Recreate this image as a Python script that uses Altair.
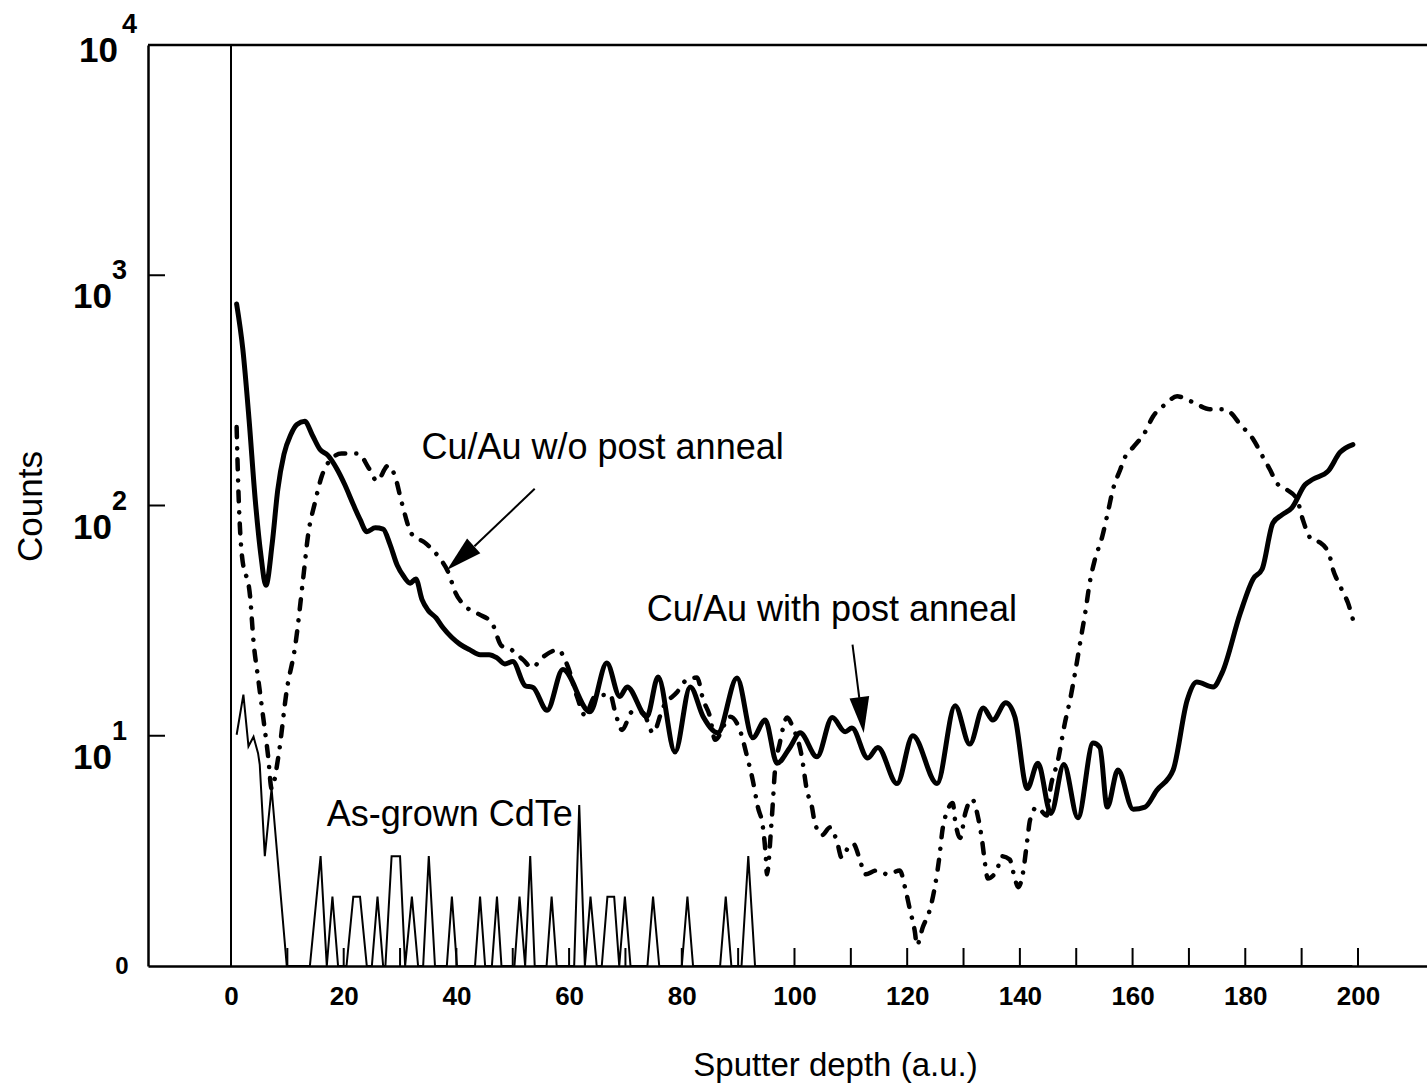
import altair as alt
import pandas as pd

# ---------------- data ----------------
# (sputter depth in a.u., counts)
with_anneal = [
    (1.0, 750), (2.1, 477), (3.2, 237), (4.3, 106), (5.3, 61), (6.2, 45), (7.3, 68),
    (8.3, 117), (9.4, 167), (10.6, 203), (11.7, 225), (13.1, 232), (14.4, 203),
    (15.8, 175), (17.2, 165), (18.8, 144), (20.2, 123), (21.7, 101), (22.9, 87),
    (24.1, 77), (25.6, 80), (27.0, 79), (28.2, 68), (29.5, 55), (30.7, 49), (31.8, 46),
    (32.8, 48), (33.9, 39), (35.0, 35), (36.4, 32.5), (37.6, 29.5), (39.2, 26.7),
    (40.6, 25), (42.4, 23.6), (44.2, 22.5), (45.8, 22.5), (47.2, 21.8), (48.6, 20.5),
    (50.0, 21), (52.2, 16.5), (53.6, 16.2), (56.1, 12.9), (58.9, 19.4), (63.7, 12.7),
    (66.7, 20.7), (69.0, 14.8), (70.3, 16.3), (73.8, 12.1), (75.8, 18), (78.8, 8.5),
    (81.5, 16.3), (83.8, 12.1), (86.4, 10.3), (89.8, 17.8), (92.6, 9.8), (94.8, 11.7),
    (96.9, 7.6), (99.2, 8.9), (101.0, 10.3), (104.0, 8.1), (106.7, 12), (109.0, 10.4),
    (110.2, 10.8), (113.0, 8), (114.8, 8.9), (118.2, 6.2), (121.0, 10), (125.3, 6.2),
    (128.5, 13.5), (131.1, 9.2), (133.5, 13.2), (135.2, 11.7), (137.5, 13.9),
    (139.1, 12.1), (141.3, 5.9), (143.2, 7.6), (145.5, 4.6), (147.8, 7.5), (150.3, 4.4),
    (153.0, 9.3), (154.2, 8.9), (155.5, 4.9), (157.4, 7.1), (160.1, 4.8), (162.2, 4.9),
    (164.3, 5.8), (167.2, 7.1), (169.7, 14.3), (171.4, 17.1), (174.3, 16.3),
    (175.9, 18.8), (179.1, 34), (181.4, 48), (183.0, 53), (184.9, 84), (186.5, 91),
    (188.3, 98), (190.6, 123), (192.0, 130), (194.7, 141), (196.8, 170), (199.1, 184),
]

without_anneal = [
    (1.0, 219), (1.3, 119), (1.9, 62), (3.4, 40), (4.0, 25.6), (4.8, 17.9), (5.7, 12.1),
    (6.6, 8.1), (7.2, 5.9), (8.4, 8.1), (9.9, 15.8), (11.4, 24.6), (12.8, 48), (13.7, 75),
    (14.9, 103), (16.1, 134), (17.3, 154), (19.6, 168), (22.6, 168), (24.4, 146),
    (25.9, 128), (27.9, 149), (29.1, 134), (30.3, 103), (32.1, 75), (34.4, 69),
    (36.8, 60), (38.6, 51), (39.8, 42), (41.5, 36.7), (43.9, 33.8), (46.3, 30.9),
    (48.0, 24.6), (49.8, 23.6), (51.8, 21.4), (53.4, 19.8), (55.4, 22.0), (58.0, 23.6),
    (59.8, 19.9), (61.4, 14.8), (62.8, 12.3), (64.6, 14.8), (67.3, 15.1), (68.1, 12.9),
    (69.4, 10.6), (71.2, 12.7), (73.1, 12.6), (74.9, 10.3), (76.7, 13.3), (79.1, 15.4),
    (80.9, 17.5), (82.7, 17.9), (83.8, 14.3), (85.0, 12.1), (85.9, 9.6), (88.6, 12.1),
    (90.3, 10.6), (91.6, 8.1), (92.6, 6.4), (93.5, 4.9), (94.4, 4.0), (94.9, 3.0),
    (95.1, 2.5), (95.8, 3.8), (96.2, 5.3), (96.5, 6.9), (97.4, 9.3), (98.7, 12.0),
    (99.7, 10.9), (101.3, 8.1), (102.2, 5.8), (103.1, 4.9), (103.6, 4.2), (104.9, 3.7),
    (106.3, 4.0), (107.5, 3.5), (108.4, 2.95), (109.5, 3.26), (110.4, 3.4), (111.6, 2.9),
    (112.5, 2.5), (114.6, 2.6), (116.6, 2.5), (118.7, 2.6), (119.6, 2.2), (120.5, 1.75),
    (121.4, 1.39), (121.7, 1.23), (122.8, 1.48), (124.0, 1.75), (124.9, 2.2), (125.8, 3.1),
    (126.2, 3.8), (127.1, 4.7), (128.1, 5.1), (128.5, 4.3), (129.4, 3.6), (130.3, 4.6),
    (131.5, 5.3), (132.6, 4.4), (133.3, 3.5), (133.8, 2.8), (134.3, 2.4), (135.9, 2.6),
    (136.8, 3.0), (138.2, 2.9), (139.1, 2.4), (139.7, 2.2), (140.5, 2.5), (141.3, 3.5),
    (141.8, 4.3), (143.0, 4.9), (144.8, 4.5), (145.3, 5.65), (146.8, 7.9), (148.0, 11.4),
    (148.9, 14.3), (149.8, 18.8), (151.0, 28.1), (151.6, 34.2), (152.4, 46.3),
    (153.3, 58.1), (154.6, 73), (155.6, 93), (156.5, 117), (157.8, 143), (158.7, 163),
    (160.1, 179), (162.2, 208), (163.6, 243), (165.8, 275), (167.9, 298), (168.8, 295),
    (171.4, 275), (173.7, 262), (176.0, 262), (177.3, 254), (179.1, 225), (181.4, 194),
    (183.1, 163), (184.4, 143), (185.6, 125), (187.4, 117), (189.2, 106), (190.2, 87),
    (191.8, 71), (193.3, 69), (195.0, 60), (195.6, 52.4), (196.3, 47.5), (197.4, 41.8),
    (198.2, 37.9), (199.1, 32.0),
]

# 0 counts are drawn on the bottom ("0") line
as_grown = [
    (1.0, 10.1), (2.2, 15.1), (3.1, 9.0), (4.0, 9.9), (4.8, 8.4), (5.1, 7.5), (6.0, 3.0),
    (7.2, 5.9), (9.9, 0),
    (14.0, 0), (15.9, 3), (17.0, 0), (18.0, 2), (19.0, 0),
    (20.5, 0), (21.7, 2), (22.9, 2), (24.1, 0),
    (25.0, 0), (26.0, 2), (27.0, 0),
    (27.4, 0), (28.5, 3), (30.0, 3), (30.9, 0), (32.1, 2), (33.2, 0),
    (34.1, 0), (35.1, 3), (36.2, 0),
    (38.3, 0), (39.2, 2), (40.1, 0),
    (43.3, 0), (44.2, 2), (45.1, 0),
    (46.3, 0), (47.2, 2), (48.0, 0),
    (50.3, 0), (51.2, 2), (52.2, 0), (53.1, 3), (53.9, 0),
    (56.0, 0), (56.9, 2), (57.8, 0),
    (60.9, 0), (61.8, 5), (62.8, 0), (63.8, 2), (64.9, 0),
    (65.8, 0), (66.8, 2), (68.0, 2), (68.9, 0), (69.9, 2), (70.9, 0),
    (73.9, 0), (74.9, 2), (76.0, 0),
    (80.0, 0), (81.0, 2), (82.0, 0),
    (86.8, 0), (87.8, 2), (88.8, 0),
    (90.6, 0), (91.8, 3), (93.0, 0),
    (199.0, 0),
]

x_tick_values = list(range(10, 201, 10))
x_label_values = list(range(0, 201, 20))
decades = [10, 100, 1000]
decade_exponents = ["1", "2", "3"]
top_decade = [10000]
top_exponent = ["4"]

annotation_labels = ["Cu/Au w/o post anneal", "Cu/Au with post anneal", "As-grown CdTe"]
annotation_depth = [33.8, 73.8, 17.0]
annotation_counts = [158.5, 31.4, 4.06]

arrow_start_depth = [53.9, 110.3]
arrow_start_counts = [118.2, 24.9]
arrow_end_depth = [43.2, 111.5]
arrow_end_counts = [66.5, 14.6]
arrow_head_depth = [40.7, 111.9]
arrow_head_counts = [59.2, 12.3]

# ---------------- chart ----------------
FONT = "Liberation Sans, Arial, Helvetica, sans-serif"
W, H = 1279, 921

xs = alt.Scale(domain=[-14.73, 212.25], nice=False, zero=False)
ys = alt.Scale(type="log", domain=[1, 10000], nice=False)


def frame(pairs):
    return pd.DataFrame(pairs, columns=["depth", "counts"])


x_axis = alt.Axis(
    values=x_label_values, ticks=False, tickSize=0, grid=False, domain=True,
    domainColor="black", domainWidth=2.5, labelFont=FONT, labelFontSize=26,
    labelFontWeight="bold", labelColor="black", labelPadding=17, labelFlush=False,
    labelOverlap=False, title="Sputter depth (a.u.)", titleFont=FONT, titleFontSize=33,
    titleFontWeight="normal", titleColor="black", titleX=687, titleY=109,
    titleAlign="center", titleBaseline="alphabetic",
)
y_axis = alt.Axis(
    values=[1], labelExpr="'0'", ticks=False, tickSize=0, grid=False, domain=True,
    domainColor="black", domainWidth=2.5, labelFont=FONT, labelFontSize=24,
    labelFontWeight="bold", labelColor="black", labelPadding=20, labelFlush=False,
    title="Counts", titleFont=FONT, titleFontSize=35, titleFontWeight="normal",
    titleColor="black", titleX=-118, titleY=461, titleAngle=270, titleAlign="center",
    titleBaseline="middle",
)


def X():
    return alt.X("depth:Q", scale=xs, axis=x_axis, title="Sputter depth (a.u.)")


def Y(f="counts:Q"):
    return alt.Y(f, scale=ys, axis=y_axis, title="Counts")


solid = alt.Chart(frame(with_anneal)).mark_line(
    color="black", strokeWidth=5, strokeJoin="round", strokeCap="round",
    interpolate="monotone",
).encode(x=X(), y=Y())

dotted = alt.Chart(frame(without_anneal)).mark_line(
    color="black", strokeWidth=4.5, strokeDash=[10, 11, 0.1, 11], strokeCap="round",
    strokeJoin="round", interpolate="monotone",
).encode(x=X(), y=Y())

thin = alt.Chart(frame(as_grown)).transform_calculate(
    plotted="max(datum.counts, 1)"
).mark_line(color="black", strokeWidth=2).encode(x=X(), y=Y("plotted:Q"))

zero_rule = alt.Chart(pd.DataFrame({"depth": [0]})).mark_rule(
    color="black", strokeWidth=2
).encode(x=X())

top_rule = alt.Chart(pd.DataFrame({"counts": top_decade})).mark_rule(
    color="black", strokeWidth=2.5
).encode(y=Y())

x_ticks = alt.Chart(pd.DataFrame({"depth": x_tick_values})).mark_rule(
    color="black", strokeWidth=2
).encode(x=X(), y=alt.value(H), y2=alt.value(H - 18))

y_ticks = alt.Chart(pd.DataFrame({"counts": decades})).mark_rule(
    color="black", strokeWidth=2
).encode(y=Y(), x=alt.value(0), x2=alt.value(17))

lab = pd.DataFrame({"counts": decades, "exp": decade_exponents})
lab_top = pd.DataFrame({"counts": top_decade, "exp": top_exponent})

ten = alt.Chart(lab).mark_text(
    align="right", baseline="alphabetic", dy=33, font=FONT, fontSize=35,
    fontWeight="bold", color="black",
).encode(y=Y(), x=alt.value(-36), text=alt.value("10"))
sup = alt.Chart(lab).mark_text(
    align="left", baseline="alphabetic", dy=4, font=FONT, fontSize=27,
    fontWeight="bold", color="black",
).encode(y=Y(), x=alt.value(-36), text="exp:N")
ten_top = alt.Chart(lab_top).mark_text(
    align="right", baseline="alphabetic", dy=17, font=FONT, fontSize=35,
    fontWeight="bold", color="black",
).encode(y=Y(), x=alt.value(-30), text=alt.value("10"))
sup_top = alt.Chart(lab_top).mark_text(
    align="left", baseline="alphabetic", dy=-12, font=FONT, fontSize=27,
    fontWeight="bold", color="black",
).encode(y=Y(), x=alt.value(-26), text="exp:N")

ann = alt.Chart(pd.DataFrame({
    "depth": annotation_depth, "counts": annotation_counts, "label": annotation_labels,
})).mark_text(
    align="left", baseline="alphabetic", font=FONT, fontSize=36, color="black",
).encode(x=X(), y=Y(), text="label:N")

arrows = alt.Chart(pd.DataFrame({
    "depth": arrow_start_depth, "counts": arrow_start_counts,
    "depth2": arrow_end_depth, "counts2": arrow_end_counts,
})).mark_rule(color="black", strokeWidth=2).encode(
    x=X(), y=Y(), x2="depth2:Q", y2="counts2:Q"
)

heads = []
for i, ang in enumerate([228, 173]):
    heads.append(
        alt.Chart(pd.DataFrame({
            "depth": [arrow_head_depth[i]], "counts": [arrow_head_counts[i]],
        })).mark_point(
            shape="M0,-1L0.55,1L-0.55,1Z", filled=True, size=1296, color="black",
            opacity=1, strokeWidth=0, angle=ang,
        ).encode(x=X(), y=Y())
    )

chart = alt.layer(
    solid, dotted, thin, zero_rule, top_rule, x_ticks, y_ticks,
    ten, sup, ten_top, sup_top, ann, arrows, *heads,
).properties(
    width=W, height=H,
    padding={"left": 148, "top": 45, "right": 0, "bottom": 124},
    autosize=alt.AutoSizeParams(type="none"),
    background="white",
).configure_view(stroke=None)

chart.save("out.html", embed_options={"renderer": "svg", "actions": False})
